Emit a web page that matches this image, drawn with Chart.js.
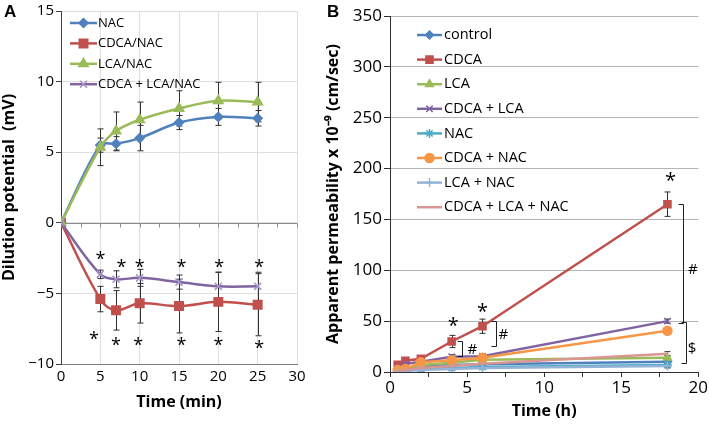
<!DOCTYPE html>
<html>
<head>
<meta charset="utf-8">
<title>Dilution potential and apparent permeability</title>
<script src="https://cdn.jsdelivr.net/npm/chart.js@4.4.1/dist/chart.umd.min.js"></script>
<style>
  body { margin: 0; background: #fff; }
  #wrap { position: relative; width: 709px; height: 424px; overflow: hidden; }
  canvas { position: absolute; top: 0; }
  #chartA { left: 0; }
  #chartB { left: 318px; }
  .panel { position: absolute; top: 2px; font: bold 17px "Liberation Sans", Arial, sans-serif; color: #000; }
</style>
</head>
<body>
<div id="wrap">
  <canvas id="chartA" width="318" height="424"></canvas>
  <canvas id="chartB" width="391" height="424"></canvas>
  <div class="panel" style="left:4px">A</div>
  <div class="panel" style="left:327px">B</div>
</div>
<script>
// ---- panel A: dilution potential (mV) vs time (min)
const timeMin = [0, 5, 7, 10, 15, 20, 25];
const nacMv = [0, 5.5, 5.6, 6.0, 7.1, 7.5, 7.4];
const nacErr = [0, 0.5, 0.5, 0.9, 0.5, 0.6, 0.55];
const cdcaNacMv = [0, -5.4, -6.2, -5.7, -5.9, -5.6, -5.8];
const cdcaNacErr = [0, 0.9, 1.4, 1.4, 1.9, 2.1, 2.2];
const lcaNacMv = [0, 5.35, 6.5, 7.3, 8.1, 8.65, 8.55];
const lcaNacErr = [0, 1.3, 1.35, 1.25, 1.25, 1.3, 1.4];
const cdcaLcaNacMv = [0, -3.65, -4.0, -3.9, -4.2, -4.5, -4.5];
const cdcaLcaNacErr = [0, 0.3, 0.6, 0.6, 0.5, 1.0, 1.0];

// significance stars (data coords)
const starsA = [
  {x: 5, y: -2.3}, {x: 7.7, y: -2.85}, {x: 10, y: -2.85}, {x: 15.3, y: -2.85}, {x: 20.1, y: -2.85}, {x: 25.2, y: -2.85},
  {x: 4.2, y: -7.95}, {x: 7, y: -8.4}, {x: 9.8, y: -8.4}, {x: 15.3, y: -8.4}, {x: 20, y: -8.4}, {x: 25.2, y: -8.6}
];

// ---- panel B: apparent permeability vs time (h)
const timeH = [0.5, 1, 2, 4, 6, 18];
const control = [2, 3, 5, 7, 7.5, 10];
const controlErr = [1, 1, 1, 1, 1, 2];
const cdca = [7, 11, 13, 30, 45, 165];
const cdcaErr = [2, 2, 2, 6, 7, 12];
const lca = [2, 3, 7, 9, 12, 14];
const lcaErr = [1, 1, 1, 1, 1, 2];
const cdcaLca = [4, 8, 10, 15, 15.5, 50];
const cdcaLcaErr = [1, 1, 2, 2, 2, 2];
const nac = [1, 1.5, 3, 4, 5, 7];
const nacErrB = [1, 1, 1, 1, 1, 2];
const cdcaNac = [2, 3, 9.5, 11.5, 14, 40.5];
const cdcaNacErrB = [1, 1, 2, 2, 2, 2];
const lcaNac = [0.5, 1, 2, 3, 4, 6];
const lcaNacErrB = [1, 1, 1, 1, 1, 2];
const cdcaLcaNac = [1, 2, 4, 6, 8, 18];
const cdcaLcaNacErrB = [1, 1, 1, 1, 1, 2];

const starsB = [{x: 4.1, y: 50}, {x: 6, y: 64}, {x: 18.2, y: 193}];
const bracketsB = [
  {x: 4.7, from: 30.5, to: 16},
  {x: 6.85, from: 50.5, to: 26},
  {x: 19.0, from: 165, to: 48.5},
  {x: 19.2, from: 49, to: 9}
];
const signsB = [
  {x: 5.35, y: 21.5, text: '#'},
  {x: 7.35, y: 36.5, text: '#'},
  {x: 19.65, y: 101, text: '#'},
  {x: 19.6, y: 23, text: '$'}
];

Chart.defaults.font.family = '"Open Sans", sans-serif';
Chart.defaults.color = '#000';

const pts = (xs, ys) => xs.map((x, i) => ({x: x, y: ys[i]}));
const minus = v => String(v).replace('-', '\u2212');

function drawMarker(ctx, ds, x, y) {
  if (window.Chart && Chart.helpers && Chart.helpers.drawPoint) {
    Chart.helpers.drawPoint(ctx, {
      pointStyle: ds.pointStyle, radius: ds.pointRadius, rotation: 0,
      borderWidth: ds.pointBorderWidth || 1
    }, x, y);
  } else {
    ctx.beginPath();
    ctx.arc(x, y, ds.pointRadius, 0, Math.PI * 2);
    ctx.fill();
    ctx.stroke();
  }
}

// legend drawn inside the plot, Excel style (line + marker)
function innerLegend(cfg) {
  return {
    id: 'innerLegend',
    afterDraw(chart) {
      const {ctx, chartArea} = chart;
      ctx.save();
      ctx.font = cfg.font;
      ctx.textBaseline = 'middle';
      ctx.textAlign = 'left';
      chart.data.datasets.forEach((ds, i) => {
        const y = chartArea.top + cfg.top + i * cfg.rowHeight;
        const x0 = chartArea.left + cfg.left;
        const x1 = x0 + cfg.lineLength;
        ctx.strokeStyle = ds.borderColor;
        ctx.lineWidth = ds.borderWidth;
        ctx.beginPath();
        ctx.moveTo(x0, y);
        ctx.lineTo(x1, y);
        ctx.stroke();
        if (ds.pointRadius > 0) {
          ctx.fillStyle = ds.pointBackgroundColor || ds.backgroundColor;
          ctx.strokeStyle = ds.pointBorderColor || ds.borderColor;
          ctx.lineWidth = ds.pointBorderWidth || 1;
          drawMarker(ctx, ds, (x0 + x1) / 2, y);
        }
        ctx.fillStyle = '#000';
        ctx.fillText(ds.label, x1 + cfg.gap, y);
      });
      ctx.restore();
    }
  };
}

const errorBars = {
  id: 'errorBars',
  beforeDatasetsDraw(chart) {
    const {ctx, scales: {x, y}} = chart;
    ctx.save();
    ctx.strokeStyle = '#303030';
    ctx.lineWidth = 1;
    chart.data.datasets.forEach(ds => {
      if (!ds.errors) return;
      ds.data.forEach((p, i) => {
        const e = ds.errors[i];
        if (!e) return;
        const px = Math.round(x.getPixelForValue(p.x)) + 0.5;
        const top = y.getPixelForValue(p.y + e);
        const bot = y.getPixelForValue(p.y - e);
        ctx.beginPath();
        ctx.moveTo(px, top); ctx.lineTo(px, bot);
        ctx.moveTo(px - 3, top); ctx.lineTo(px + 3, top);
        ctx.moveTo(px - 3, bot); ctx.lineTo(px + 3, bot);
        ctx.stroke();
      });
    });
    ctx.restore();
  }
};

function marks(cfg) {
  return {
    id: 'marks',
    beforeDatasetsDraw(chart) {
      if (!cfg.zeroLine) return;
      const {ctx, chartArea, scales: {x, y}} = chart;
      const y0 = Math.round(y.getPixelForValue(0)) + 0.5;
      ctx.save();
      ctx.strokeStyle = '#8c8c8c';
      ctx.lineWidth = 1;
      ctx.beginPath();
      ctx.moveTo(chartArea.left, y0);
      ctx.lineTo(chartArea.right, y0);
      for (let v = x.min; v <= x.max; v += cfg.zeroTickStep) {
        const px = Math.round(x.getPixelForValue(v)) + 0.5;
        ctx.moveTo(px, y0);
        ctx.lineTo(px, y0 + 4);
      }
      ctx.stroke();
      ctx.restore();
    },
    afterDatasetsDraw(chart) {
      const {ctx, scales: {x, y}} = chart;
      ctx.save();
      ctx.fillStyle = '#000';
      ctx.textAlign = 'center';
      ctx.textBaseline = 'alphabetic';
      ctx.font = cfg.starFont;
      (cfg.stars || []).forEach(s => {
        ctx.fillText('*', x.getPixelForValue(s.x), y.getPixelForValue(s.y) + cfg.starShift);
      });
      ctx.strokeStyle = '#202020';
      ctx.lineWidth = 1;
      (cfg.brackets || []).forEach(b => {
        const px = Math.round(x.getPixelForValue(b.x)) + 0.5;
        const y1 = Math.round(y.getPixelForValue(b.from)) + 0.5;
        const y2 = Math.round(y.getPixelForValue(b.to)) + 0.5;
        ctx.beginPath();
        ctx.moveTo(px - 5, y1); ctx.lineTo(px, y1);
        ctx.lineTo(px, y2); ctx.lineTo(px - 5, y2);
        ctx.stroke();
      });
      ctx.font = cfg.signFont;
      ctx.textBaseline = 'middle';
      (cfg.signs || []).forEach(s => {
        ctx.fillText(s.text, x.getPixelForValue(s.x), y.getPixelForValue(s.y));
      });
      ctx.restore();
    }
  };
}

function line(label, xs, ys, errs, color, style, radius, extra) {
  return Object.assign({
    label: label,
    data: pts(xs, ys),
    errors: errs,
    borderColor: color,
    backgroundColor: color,
    pointBackgroundColor: color,
    pointBorderColor: color,
    borderWidth: 2.5,
    pointStyle: style,
    pointRadius: radius,
    pointBorderWidth: 1.5,
    pointHoverRadius: radius
  }, extra || {});
}

// ---------- chart A
const dsA = [
  line('NAC', timeMin, nacMv, nacErr, '#4f81bd', 'rectRot', 4.5),
  line('CDCA/NAC', timeMin, cdcaNacMv, cdcaNacErr, '#c0504d', 'rect', 6),
  line('LCA/NAC', timeMin, lcaNacMv, lcaNacErr, '#9bbb59', 'triangle', 5.5),
  line('CDCA + LCA/NAC', timeMin, cdcaLcaNacMv, cdcaLcaNacErr, '#8064a2', 'crossRot', 5,
       {pointBorderColor: '#a592c4', pointBorderWidth: 1.5})
];
dsA.forEach((d, i) => { d.order = dsA.length - i; d.tension = 0.35; });

new Chart(document.getElementById('chartA'), {
  type: 'line',
  data: {datasets: dsA},
  options: {
    responsive: false,
    animation: false,
    layout: {padding: {left: 0, right: 21, top: 9, bottom: 0}},
    plugins: {legend: {display: false}, tooltip: {enabled: false}},
    scales: {
      x: {
        type: 'linear', min: 0, max: 30,
        ticks: {stepSize: 5, font: {size: 15}, padding: 4},
        grid: {color: '#dedede', drawTicks: false},
        border: {color: '#7f7f7f'},
        title: {display: true, text: 'Time (min)', font: {size: 16, weight: 'bold'}, padding: {top: 0, bottom: 12}},
        afterFit: s => { s.height = 60; }
      },
      y: {
        min: -10, max: 15,
        ticks: {stepSize: 5, font: {size: 15}, padding: 2, callback: minus},
        grid: {color: '#dedede', tickColor: '#404040', tickLength: 5},
        border: {color: '#404040'},
        title: {display: true, text: 'Dilution potential  (mV)', font: {size: 16, weight: 'bold'}, padding: {top: 0, bottom: 0}},
        afterFit: s => { s.width = 61; }
      }
    }
  },
  plugins: [
    errorBars,
    marks({zeroLine: true, zeroTickStep: 2.5, stars: starsA, starFont: '18px "Open Sans"', starShift: 10}),
    innerLegend({font: '13px "Open Sans"', left: 9, lineLength: 27, gap: 1, top: 12, rowHeight: 20.4})
  ]
});

// ---------- chart B
const dsB = [
  line('control', timeH, control, controlErr, '#4f81bd', 'rectRot', 4),
  line('CDCA', timeH, cdca, cdcaErr, '#c0504d', 'rect', 5),
  line('LCA', timeH, lca, lcaErr, '#9bbb59', 'triangle', 4.5),
  line('CDCA + LCA', timeH, cdcaLca, cdcaLcaErr, '#8064a2', 'crossRot', 4.5),
  line('NAC', timeH, nac, nacErrB, '#4bacc6', 'star', 4.5),
  line('CDCA + NAC', timeH, cdcaNac, cdcaNacErrB, '#f79646', 'circle', 4.5),
  line('LCA + NAC', timeH, lcaNac, lcaNacErrB, '#95b3d7', 'cross', 4.5),
  line('CDCA + LCA + NAC', timeH, cdcaLcaNac, cdcaLcaNacErrB, '#d99694', 'circle', 0)
];
dsB.forEach((d, i) => { d.order = dsB.length - i; d.tension = 0; });

new Chart(document.getElementById('chartB'), {
  type: 'line',
  data: {datasets: dsB},
  options: {
    responsive: false,
    animation: false,
    layout: {padding: {left: 0, right: 10, top: 16, bottom: 0}},
    plugins: {legend: {display: false}, tooltip: {enabled: false}},
    scales: {
      x: {
        type: 'linear', min: 0, max: 20,
        ticks: {stepSize: 2.5, font: {size: 17}, padding: 1,
                callback: v => (v % 5 === 0 ? v : '')},
        grid: {drawOnChartArea: false, tickColor: '#303030', tickLength: 5},
        border: {color: '#303030'},
        title: {display: true, text: 'Time (h)', font: {size: 16, weight: 'bold'}, padding: {top: 0, bottom: 3}},
        afterFit: s => { s.height = 52; }
      },
      y: {
        min: 0, max: 350,
        ticks: {stepSize: 50, font: {size: 17}, padding: 2},
        grid: {color: '#b4b4b4', tickColor: '#303030', tickLength: 6},
        border: {color: '#303030'},
        title: {display: true, text: 'Apparent permeability x 10\u207b\u2079 (cm/sec)', font: {size: 16, weight: 'bold'}, padding: {top: 6, bottom: 0}},
        afterFit: s => { s.width = 72; }
      }
    }
  },
  plugins: [
    errorBars,
    marks({stars: starsB, starFont: '20px "Open Sans"', starShift: 11, brackets: bracketsB, signs: signsB, signFont: '15px "Open Sans"'}),
    innerLegend({font: '14.5px "Open Sans"', left: 27, lineLength: 25, gap: 2, top: 19, rowHeight: 24.6})
  ]
});
</script>
</body>
</html>
